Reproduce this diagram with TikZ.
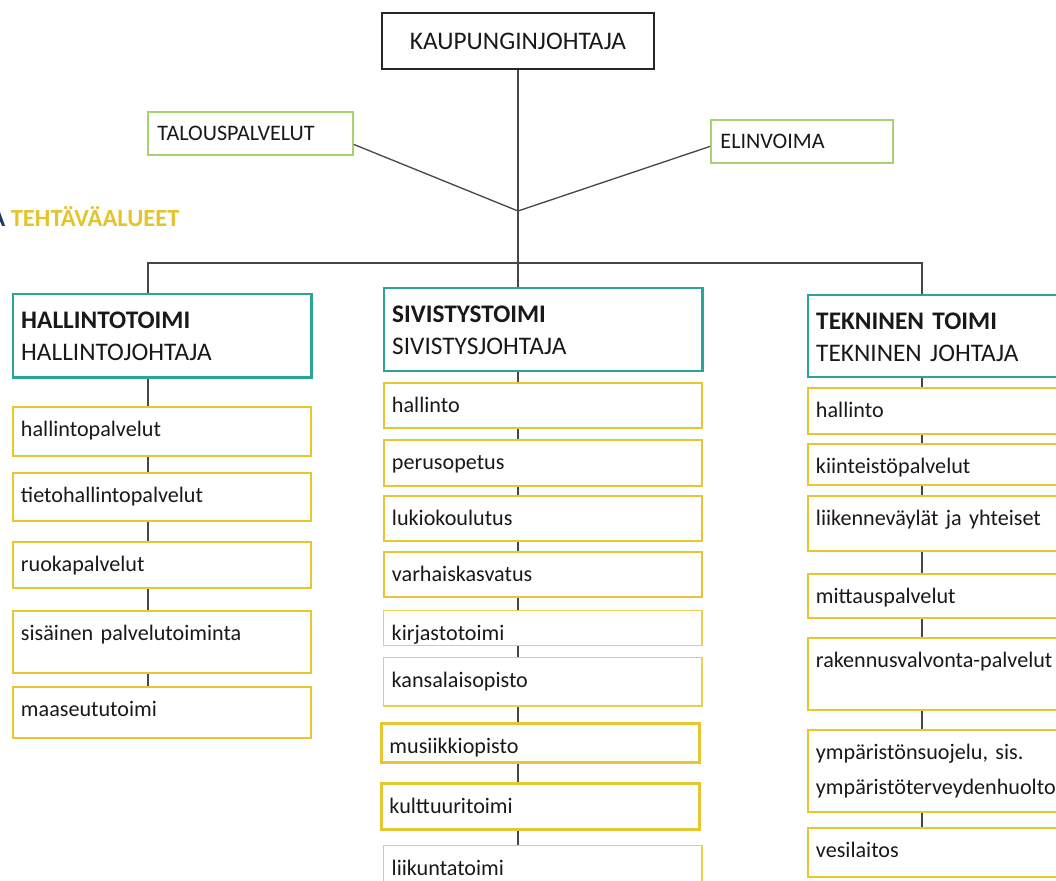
\documentclass[tikz,border=0pt]{standalone}
\usepackage{fontspec}
\setmainfont{Carlito}
\usetikzlibrary{calc}

\definecolor{tealb}{RGB}{40,166,154}
\definecolor{goldb}{RGB}{232,198,50}
\definecolor{goldt}{RGB}{228,196,44}
\definecolor{greenb}{RGB}{168,210,112}
\definecolor{navyt}{RGB}{31,56,100}

\tikzset{
  conn/.style={draw=black!72, line width=0.75pt},
  chief/.style={draw=black!85, line width=0.9pt, fill=white, inner sep=0pt,
    minimum width=5.43cm, minimum height=1.13cm, text=black!90,
    font=\fontsize{14.4}{18}\selectfont},
  staff/.style={draw=greenb, line width=1.1pt, fill=white, anchor=north west,
    inner xsep=0.19cm, inner ysep=0pt, minimum height=0.866cm, align=left,
    text=black!90, font=\fontsize{12.6}{17}\selectfont},
  title/.style={anchor=base west, inner sep=0pt, text=goldt,
    font=\bfseries\fontsize{14}{16}\selectfont},
  head/.style={draw=tealb, line width=1.4pt, fill=white, anchor=north west,
    inner xsep=0.16cm, inner ysep=0pt, align=left, text height=0.68cm,
    text=black!90, font=\fontsize{14.4}{18.1}\selectfont},
  item/.style={draw=goldb, line width=1.1pt, fill=white, anchor=north west,
    inner xsep=0.16cm, inner ysep=0pt, align=left, text height=0.6cm,
    text=black!90, font=\fontsize{12.6}{17}\selectfont},
  heavy/.style={line width=1.7pt},
  light/.style={line width=0.8pt, draw=goldb!85},
  colL/.style={text width=5.65cm},
  colM/.style={text width=6.05cm},
  colR/.style={text width=6.6cm}
}

\begin{document}
\begin{tikzpicture}[x=0.02cm,y=-0.02cm]
\useasboundingbox (0,0) rectangle (1056,881);

%% top of the chart
\node[chief] (kj) at (518,41) {KAUPUNGINJOHTAJA};
\node[staff, text width=3.72cm] (talous) at (147,111) {TALOUSPALVELUT};
\node[staff, text width=3.27cm] (elin) at (710,119) {ELINVOIMA};
\node[title] (otsikko) at (-10,227) {{\color{navyt}A} TEHTÄVÄALUEET};

\coordinate (hub) at (518,211);
\coordinate (bar) at (518,263);
\coordinate (spineL) at (148,263);
\coordinate (spineR) at (922,263);

%% toimialat
\node[head, colL, text depth=0.988cm] (hal) at (12,293) {\textbf{HALLINTOTOIMI}\\HALLINTOJOHTAJA};
\node[head, colM, text depth=0.974cm] (siv) at (383,287) {\textbf{SIVISTYSTOIMI}\\SIVISTYSJOHTAJA};
\node[head, colR, text depth=0.954cm] (tek) at (807,294) {\textbf{TEKNINEN TOIMI}\\TEKNINEN JOHTAJA};

%% hallintotoimi
\node[item, colL, text depth=0.372cm] (lh1) at (12,406) {hallintopalvelut};
\node[item, colL, text depth=0.352cm] (lh2) at (12,472) {tietohallintopalvelut};
\node[item, colL, text depth=0.32cm] (lh3) at (12,541) {ruokapalvelut};
\node[item, colL, text depth=0.646cm] (lh4) at (12,610) {sisäinen palvelutoiminta};
\node[item, colL, text depth=0.414cm] (lh5) at (12,686) {maaseututoimi};

%% sivistystoimi
\node[item, colM, text depth=0.30cm] (ms1) at (383,382) {hallinto};
\node[item, colM, text depth=0.32cm] (ms2) at (383,439) {perusopetus};
\node[item, colM, text depth=0.30cm] (ms3) at (383,495) {lukiokoulutus};
\node[item, colM, text depth=0.30cm] (ms4) at (383,551) {varhaiskasvatus};
\node[item, colM, light, text depth=0.10cm] (ms5) at (383,610) {kirjastotoimi};
\node[item, colM, light, text depth=0.366cm] (ms6) at (383,657) {kansalaisopisto};
\node[item, colM, heavy, text depth=0.18cm] (ms7) at (380,722) {musiikkiopisto};
\node[item, colM, heavy, text depth=0.32cm] (ms8) at (380,782) {kulttuuritoimi};
\node[item, colM, light, text depth=0.6cm] (ms9) at (383,845) {liikuntatoimi};

%% tekninen toimi
\node[item, colR, text depth=0.32cm] (rt1) at (807,387) {hallinto};
\node[item, colR, text depth=0.214cm] (rt2) at (807,443) {kiinteistöpalvelut};
\node[item, colR, text depth=0.5cm] (rt3) at (807,495) {liikenneväylät ja yhteiset};
\node[item, colR, text depth=0.28cm] (rt4) at (807,573) {mittauspalvelut};
\node[item, colR, text depth=0.832cm] (rt5) at (807,637) {rakennusvalvonta-palvelut};
\node[item, colR, text depth=1.032cm, font=\fontsize{12.6}{19.5}\selectfont] (rt6) at (807,729) {ympäristönsuojelu, sis.\\ympäristöterveydenhuolto};
\node[item, colR, text depth=0.388cm] (rt7) at (807,827) {vesilaitos};

%% connectors
\draw[conn] (kj.south) -- (kj.south |- siv.north);
\draw[conn] (talous.-6) -- (hub) -- (elin.183);
\draw[conn] (hal.north -| spineL) -- (spineL) -- (spineR) -- (tek.north -| spineR);

\foreach \a/\b in {hal/lh1,lh1/lh2,lh2/lh3,lh3/lh4,lh4/lh5}
  \draw[conn] (\a.south -| spineL) -- (\b.north -| spineL);
\foreach \a/\b in {siv/ms1,ms1/ms2,ms2/ms3,ms3/ms4,ms4/ms5,ms5/ms6,ms6/ms7,ms7/ms8,ms8/ms9}
  \draw[conn] (\a.south -| bar) -- (\b.north -| bar);
\foreach \a/\b in {tek/rt1,rt1/rt2,rt2/rt3,rt3/rt4,rt4/rt5,rt5/rt6,rt6/rt7}
  \draw[conn] (\a.south -| spineR) -- (\b.north -| spineR);

\end{tikzpicture}
\end{document}
